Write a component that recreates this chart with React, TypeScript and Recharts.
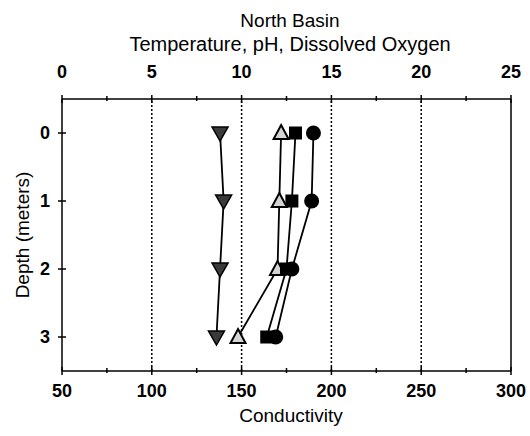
import { ScatterChart, Scatter, XAxis, YAxis, ReferenceLine } from 'recharts';

const depths = [0, 1, 2, 3];
const temperature = [14.0, 13.9, 12.8, 11.9];
const dissolvedOxygen = [13.0, 12.8, 12.5, 11.4];
const ph = [8.8, 9.0, 8.8, 8.6];
const conductivity = [172, 171, 170, 148];

const topTicks = [0, 2.5, 5, 7.5, 10, 12.5, 15, 17.5, 20, 22.5, 25];
const bottomTicks = [50, 75, 100, 125, 150, 175, 200, 225, 250, 275, 300];
const depthTicks = [0, 1, 2, 3];
const gridValues = [100, 150, 200, 250];

const toRows = (values: number[]) => values.map((v, i) => ({ depth: depths[i], value: v }));

const FONT = '"Liberation Sans", Arial, sans-serif';

const Circle = (p: any) => <circle cx={p.cx} cy={p.cy} r={7.5} fill="#000" />;
const Square = (p: any) => <rect x={p.cx - 6.5} y={p.cy - 6.5} width={13} height={13} fill="#000" />;
const DownTri = (p: any) => (
  <path
    d={`M${p.cx - 8},${p.cy - 6} L${p.cx + 8},${p.cy - 6} L${p.cx},${p.cy + 8} Z`}
    fill="#3a3a3a"
    stroke="#000"
    strokeWidth={1.5}
  />
);
const UpTri = (p: any) => (
  <path
    d={`M${p.cx},${p.cy - 8} L${p.cx + 7.5},${p.cy + 6} L${p.cx - 7.5},${p.cy + 6} Z`}
    fill="#d4d4d4"
    stroke="#000"
    strokeWidth={2}
  />
);

const TopTick = (p: any) => {
  const v = p.payload.value;
  const major = v % 5 === 0;
  return (
    <g>
      <line x1={p.x} x2={p.x} y1={p.y - (major ? 4 : 3)} y2={p.y + (major ? 4 : 2)} stroke="#000" strokeWidth={1.5} />
      {major && (
        <text x={p.x} y={p.y - 21} textAnchor="middle" fontSize={18} fontWeight="bold" fontFamily={FONT} fill="#000">
          {v}
        </text>
      )}
    </g>
  );
};

const BottomTick = (p: any) => {
  const v = p.payload.value;
  const major = v % 50 === 0;
  return (
    <g>
      <line x1={p.x} x2={p.x} y1={p.y - (major ? 4 : 3)} y2={p.y + (major ? 4 : 2)} stroke="#000" strokeWidth={1.5} />
      {major && (
        <text x={p.x} y={p.y + 26} textAnchor="middle" fontSize={18} fontWeight="bold" fontFamily={FONT} fill="#000">
          {v}
        </text>
      )}
    </g>
  );
};

const LeftTick = (p: any) => (
  <g>
    <line x1={p.x - 4} x2={p.x + 4} y1={p.y} y2={p.y} stroke="#000" strokeWidth={1.5} />
    <text x={p.x - 12} y={p.y + 6} textAnchor="end" fontSize={18} fontWeight="bold" fontFamily={FONT} fill="#000">
      {p.payload.value}
    </text>
  </g>
);

const textStyle = {
  position: 'absolute' as const,
  transform: 'translate(-50%, -50%)',
  fontFamily: FONT,
  fontSize: 19,
  whiteSpace: 'nowrap' as const,
  color: '#000',
  lineHeight: 1,
};

export default function App() {
  return (
    <div style={{ position: 'absolute', left: 0, top: 0, width: 530, height: 436, background: '#fff' }}>
      <ScatterChart width={530} height={436} margin={{ top: 0, right: 19, bottom: 0, left: 0 }}>
        <XAxis
          xAxisId="top"
          orientation="top"
          type="number"
          dataKey="value"
          domain={[0, 25]}
          ticks={topTicks}
          height={99}
          tickSize={0}
          tickMargin={0}
          tick={<TopTick />}
          axisLine={{ stroke: '#000', strokeWidth: 1.5 }}
          interval={0}
        />
        <XAxis
          xAxisId="bottom"
          orientation="bottom"
          type="number"
          dataKey="value"
          domain={[50, 300]}
          ticks={bottomTicks}
          height={65}
          tickSize={0}
          tickMargin={0}
          tick={<BottomTick />}
          axisLine={{ stroke: '#000', strokeWidth: 1.5 }}
          interval={0}
        />
        <YAxis
          type="number"
          dataKey="depth"
          domain={[-0.5, 3.5]}
          reversed
          ticks={depthTicks}
          width={62}
          tickSize={0}
          tickMargin={0}
          tick={<LeftTick />}
          axisLine={{ stroke: '#000', strokeWidth: 1.5 }}
          interval={0}
        />
        {gridValues.map((g) => (
          <ReferenceLine key={g} x={g} xAxisId="bottom" stroke="#000" strokeWidth={1.5} strokeDasharray="2 2" />
        ))}
        <ReferenceLine x={300} xAxisId="bottom" stroke="#000" strokeWidth={1.5} />
        <Scatter
          name="pH"
          data={toRows(ph)}
          xAxisId="top"
          line={{ stroke: '#000', strokeWidth: 1.8 }}
          shape={DownTri}
          isAnimationActive={false}
        />
        <Scatter
          name="Conductivity"
          data={toRows(conductivity)}
          xAxisId="bottom"
          line={{ stroke: '#000', strokeWidth: 1.8 }}
          shape={UpTri}
          isAnimationActive={false}
        />
        <Scatter
          name="Dissolved Oxygen"
          data={toRows(dissolvedOxygen)}
          xAxisId="top"
          line={{ stroke: '#000', strokeWidth: 1.8 }}
          shape={Square}
          isAnimationActive={false}
        />
        <Scatter
          name="Temperature"
          data={toRows(temperature)}
          xAxisId="top"
          line={{ stroke: '#000', strokeWidth: 1.8 }}
          shape={Circle}
          isAnimationActive={false}
        />
      </ScatterChart>
      <div style={{ ...textStyle, left: 290, top: 20 }}>North Basin</div>
      <div style={{ ...textStyle, left: 290, top: 44, fontSize: 20 }}>Temperature, pH, Dissolved Oxygen</div>
      <div style={{ ...textStyle, left: 291, top: 415 }}>Conductivity</div>
      <div style={{ ...textStyle, left: 22, top: 235, transform: 'translate(-50%, -50%) rotate(-90deg)' }}>
        Depth (meters)
      </div>
    </div>
  );
}
